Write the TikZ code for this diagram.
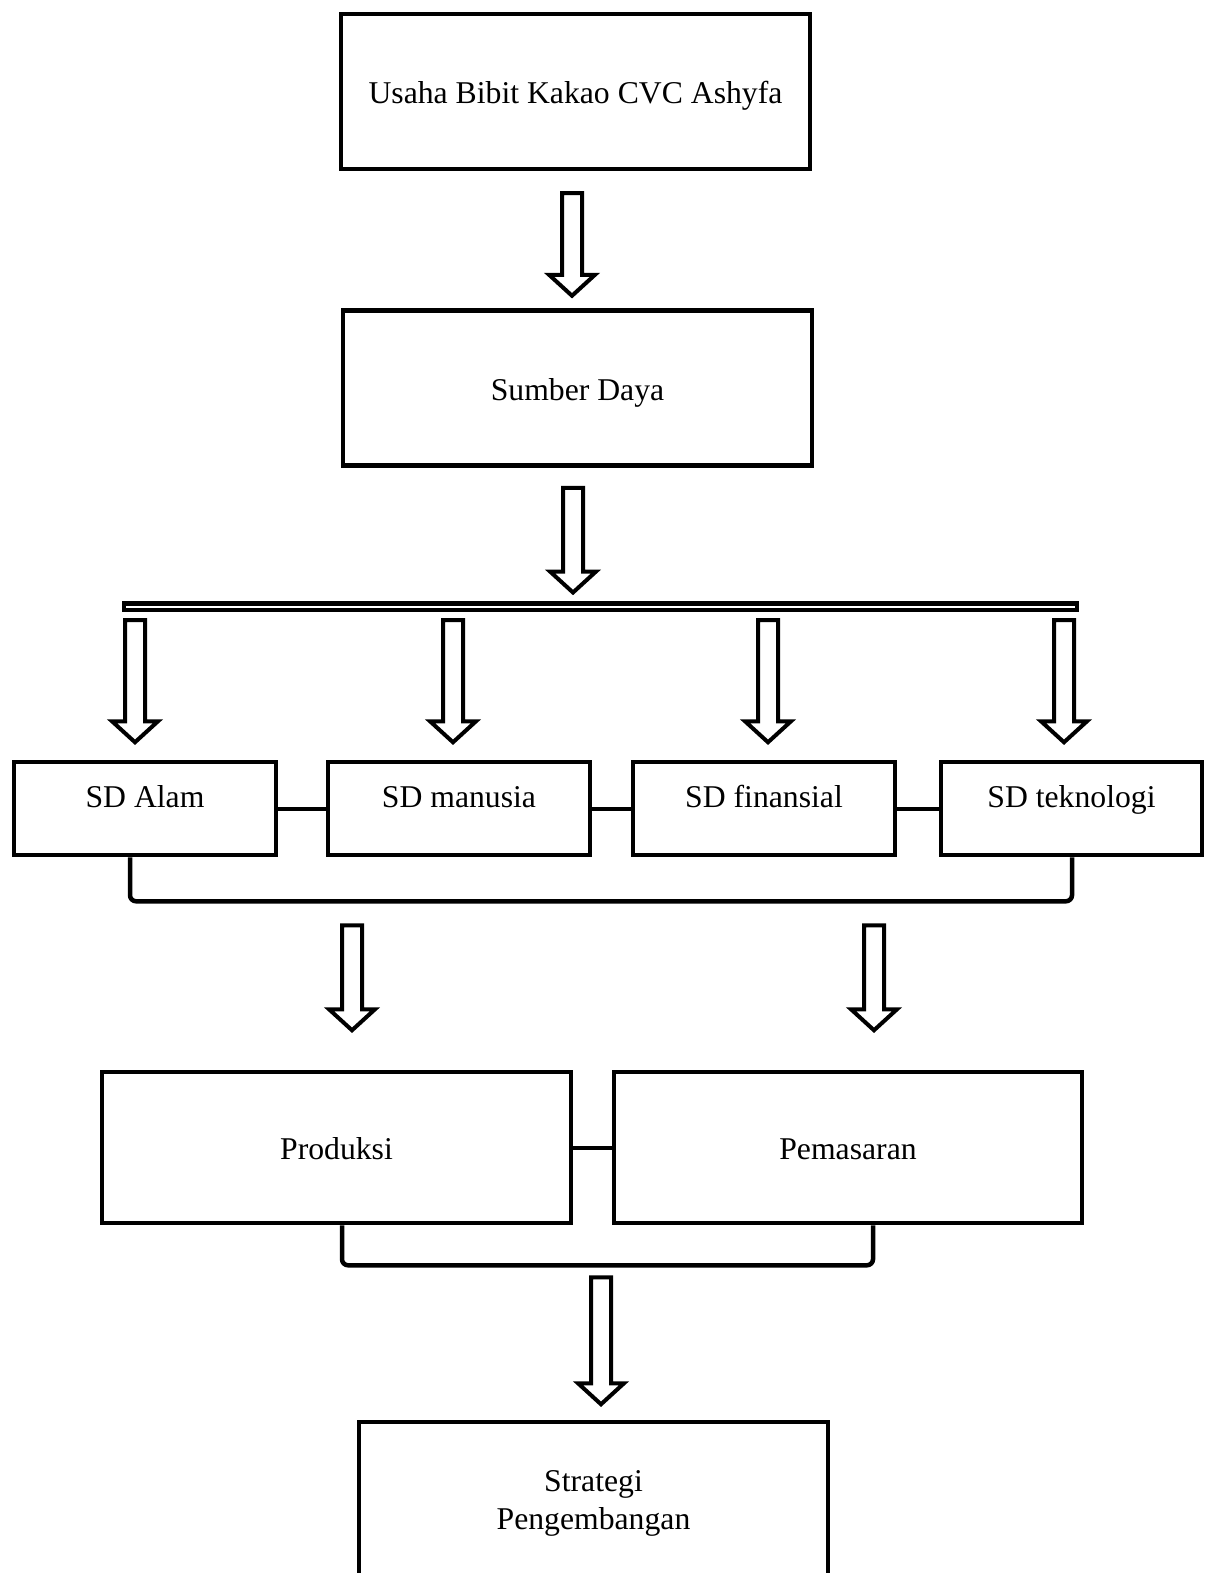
\documentclass[tikz,border=0pt]{standalone}
\usepackage{fontspec}
\setmainfont{Liberation Serif}
\usetikzlibrary{calc}
\usetikzlibrary{positioning}
\tikzset{
    box/.style={draw=black, line width=4.5pt, inner sep=0pt, align=center,
        minimum width=469pt, minimum height=155pt,
        text height=30pt, text depth=6pt,
        font=\fontsize{31.7}{38}\selectfont},
    sdbox/.style={box, minimum width=262pt, minimum height=93pt,
        text height=22pt, text depth=25pt},
    hollow/.style={draw=black, fill=white, line width=4pt, line join=miter},
    link/.style={draw=black, line width=4pt},
    bracket/.style={draw=black, line width=4.5pt, rounded corners=6pt},
    bar/.style={draw=black, line width=4.5pt, inner sep=0pt,
        minimum width=953pt, minimum height=6.5pt},
}
% block arrow: #1 top of the shaft, #2 tip
\newcommand{\holarrow}[2]{%
    \draw[hollow] let \p1=(#1), \p2=(#2) in
        (\x1-10pt,\y1) -- (\x1+10pt,\y1) -- (\x1+10pt,\y2+21pt) -- (\x1+23pt,\y2+21pt)
        -- (\x1,\y2) -- (\x1-23pt,\y2+21pt) -- (\x1-10pt,\y2+21pt) -- cycle;}

\begin{document}
\begin{tikzpicture}[x=1pt, y=-1pt]
\path[use as bounding box, fill=white] (0,0) rectangle (1206,1573);
\node[box] (usaha) at (575.5,91.5) {Usaha Bibit Kakao CVC Ashyfa};
\node[box] (sumber) at (577.5,388) {Sumber Daya};
\node[bar] (bar) at (600.5,606.5) {};
\node[sdbox] (alam) at (145,808.5) {SD Alam};
\node[sdbox] (manusia) at (459,808.5) {SD manusia};
\node[sdbox] (finansial) at (764,808.5) {SD finansial};
\node[sdbox, minimum width=261pt] (tekno) at (1071.5,808.5) {SD teknologi};
\node[box, minimum height=151pt] (produksi) at (336.5,1147.5) {Produksi};
\node[box, minimum width=468pt, minimum height=151pt] (pemasaran) at (848,1147.5) {Pemasaran};
\node[box, text height=62pt, text depth=2pt] (strategi) at (593.5,1499.5) {Strategi\\Pengembangan};
% links between boxes
\draw[link] (alam.east) -- (manusia.west);
\draw[link] (manusia.east) -- (finansial.west);
\draw[link] (finansial.east) -- (tekno.west);
\draw[link] (produksi.east) -- (pemasaran.west);
% brackets
\draw[bracket] ([xshift=-15pt]alam.south) -- ++(0,44) coordinate (sdbase) -| ([xshift=0.5pt]tekno.south);
\draw[bracket] ([xshift=5.5pt]produksi.south) -- ++(0,40) coordinate (pbase) -| ([xshift=25pt]pemasaran.south);
% arrows
\holarrow{$(usaha.south)+(-3.5,22)$}{$(sumber.north)+(0,-12.5)$}
\holarrow{$(sumber.south)+(-4.5,20)$}{$(bar.north)+(0,-8.5)$}
\holarrow{$(bar.south-|alam.north)+(-10,8)$}{$(alam.north)+(0,-17.5)$}
\holarrow{$(bar.south-|manusia.north)+(-6,8)$}{$(manusia.north)+(0,-17.5)$}
\holarrow{$(bar.south-|finansial.north)+(4,8)$}{$(finansial.north)+(0,-17.5)$}
\holarrow{$(bar.south-|tekno.north)+(-7.5,8)$}{$(tekno.north)+(0,-17.5)$}
\holarrow{$(sdbase-|produksi.north)+(15.5,24)$}{$(produksi.north)+(0,-39.5)$}
\holarrow{$(sdbase-|pemasaran.north)+(26,24)$}{$(pemasaran.north)+(0,-39.5)$}
\holarrow{$(pbase-|strategi.north)+(7.5,12)$}{$(strategi.north)+(0,-15.5)$}
\end{tikzpicture}
\end{document}
